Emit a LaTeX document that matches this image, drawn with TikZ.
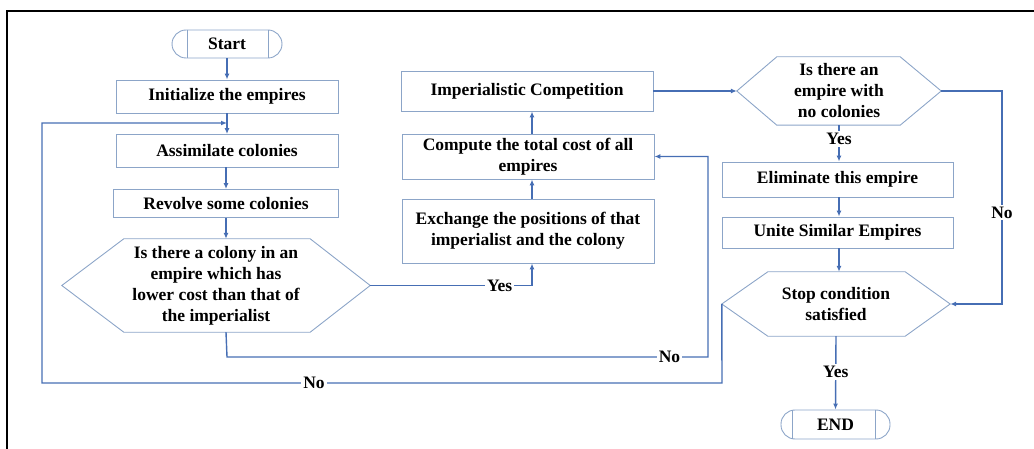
\documentclass[tikz,border=0pt]{standalone}
\usepackage{fontspec}
\setmainfont{Liberation Serif}
\usetikzlibrary{arrows.meta,calc}
\definecolor{boxc}{RGB}{140,165,200}
\definecolor{linec}{RGB}{70,110,180}
\begin{document}
\begin{tikzpicture}[x=1pt,y=-1pt,
  txt/.style={font=\fontsize{17.5}{21}\selectfont\bfseries, align=center, inner sep=0pt},
  box/.style={txt, draw=boxc, line width=0.9pt},
  hexn/.style={txt},
  term/.style={txt, draw=boxc, line width=0.9pt, rounded corners=14pt},
  conn/.style={draw=linec, line width=1.4pt},
  arr/.style={conn, -{Latex[length=6pt,width=5pt]}},
  lbl/.style={fill=white, font=\fontsize{17.5}{21}\selectfont\bfseries, inner sep=2pt},
  hexline/.style={draw=boxc, line width=0.9pt}]
\useasboundingbox (0,0) rectangle (1034,449);
\draw[line width=2pt] (1034,11) -- (7,11) -- (7,449);

% left column
\node[term, minimum width=110pt, minimum height=28pt] (start) at (227,44) {Start};
\draw[hexline] ([xshift=16pt]start.north west) -- ([xshift=16pt]start.south west);
\draw[hexline] ([xshift=-14pt]start.north east) -- ([xshift=-14pt]start.south east);
\node[box, minimum width=222pt, minimum height=33pt] (init) at (227,96.5) {Initialize the empires};
\node[box, minimum width=222pt, minimum height=33pt] (assim) at (227,151) {Assimilate colonies};
\node[box, minimum width=225pt, minimum height=28pt] (rev) at (226,203.5) {Revolve some colonies};
\node[hexn, minimum width=308pt, minimum height=93pt] (h1) at (216,285.5)
  {Is there a colony in an\\empire which has\\lower cost than that of\\the imperialist};
\draw[hexline] (h1.west) -- ([xshift=62pt]h1.north west) -- ([xshift=-60pt]h1.north east) -- (h1.east)
  -- ([xshift=-60pt]h1.south east) -- ([xshift=62pt]h1.south west) -- cycle;

% middle column
\node[box, minimum width=252pt, minimum height=40pt] (imp) at (527,91) {Imperialistic Competition};
\node[box, minimum width=252pt, minimum height=45pt] (comp) at (528,156.5) {Compute the total cost of all\\empires};
\node[box, minimum width=252pt, minimum height=64pt] (ex) at (528,231) {Exchange the positions of that\\imperialist and the colony};

% right column
\node[hexn, minimum width=204pt, minimum height=68pt] (h2) at (839,91) {Is there an\\empire with\\no colonies};
\draw[hexline] (h2.west) -- ([xshift=40pt]h2.north west) -- ([xshift=-41pt]h2.north east) -- (h2.east)
  -- ([xshift=-41pt]h2.south east) -- ([xshift=40pt]h2.south west) -- cycle;
\node[box, minimum width=231pt, minimum height=35pt] (elim) at (837.5,179.5) {Eliminate this empire};
\node[box, minimum width=231pt, minimum height=31pt] (unite) at (837.5,232.5) {Unite Similar Empires};
\node[hexn, minimum width=228pt, minimum height=64pt] (h3) at (836,304) {Stop condition\\satisfied};
\draw[hexline] (h3.west) -- ([xshift=46pt]h3.north west) -- ([xshift=-45pt]h3.north east) -- (h3.east)
  -- ([xshift=-45pt]h3.south east) -- ([xshift=46pt]h3.south west) -- cycle;
\node[term, minimum width=109pt, minimum height=29pt] (end) at (835.5,424.5) {END};
\draw[hexline] ([xshift=12pt]end.north west) -- ([xshift=12pt]end.south west);
\draw[hexline] ([xshift=-15pt]end.north east) -- ([xshift=-15pt]end.south east);

% coordinates
\coordinate (j1) at (227,123);
\coordinate (n1) at (227,357);
\coordinate (n2) at (708,357);
\coordinate (m1) at (722,383);
\coordinate (m2) at (42,383);
\coordinate (m3) at (42,123);
\coordinate (k1) at (1002,91);

% connectors
\draw[arr] (start.south) -- (init.north);
\draw[arr] (init.south) -- (assim.north);
\draw[arr] (assim.south) -- (rev.south |- assim.south) -- (rev.north);
\draw[arr] (rev.south) -- (rev.south |- h1.north);
\draw[arr] (h1.east) -| ([xshift=4pt]ex.south) node[lbl, pos=0.4] (yes1) {Yes};
\draw[arr] ([xshift=4pt]ex.north) -- ([xshift=4pt]comp.south);
\draw[arr] ([xshift=4pt]comp.north) -- ([xshift=4pt]comp.north |- imp.south);
\draw[arr] (rev.south |- h1.south) -- (n1) -- node[lbl, pos=0.92] (no1) {No} (n2) |- (comp.east);
\draw[arr] (h3.west) -- (m1) -- node[lbl, pos=0.6] (no3) {No} (m2) -- (m3) -- (j1);
\draw[arr] (imp.east) -- (h2.west);
\draw[arr] (h2.east) -- (k1) -- node[lbl, pos=0.57] (no2) {No} (k1 |- h3.east) -- (h3.east);
\draw[arr] (h2.south) -- node[lbl, pos=0.38] (yes2) {Yes} (h2.south |- elim.north);
\draw[arr] (h2.south |- elim.south) -- (h2.south |- unite.north);
\draw[arr] (h2.south |- unite.south) -- (h2.south |- h3.north);
\draw[arr] (h3.south) -- node[lbl, pos=0.49] (yes3) {Yes} (end.north);
\end{tikzpicture}
\end{document}
